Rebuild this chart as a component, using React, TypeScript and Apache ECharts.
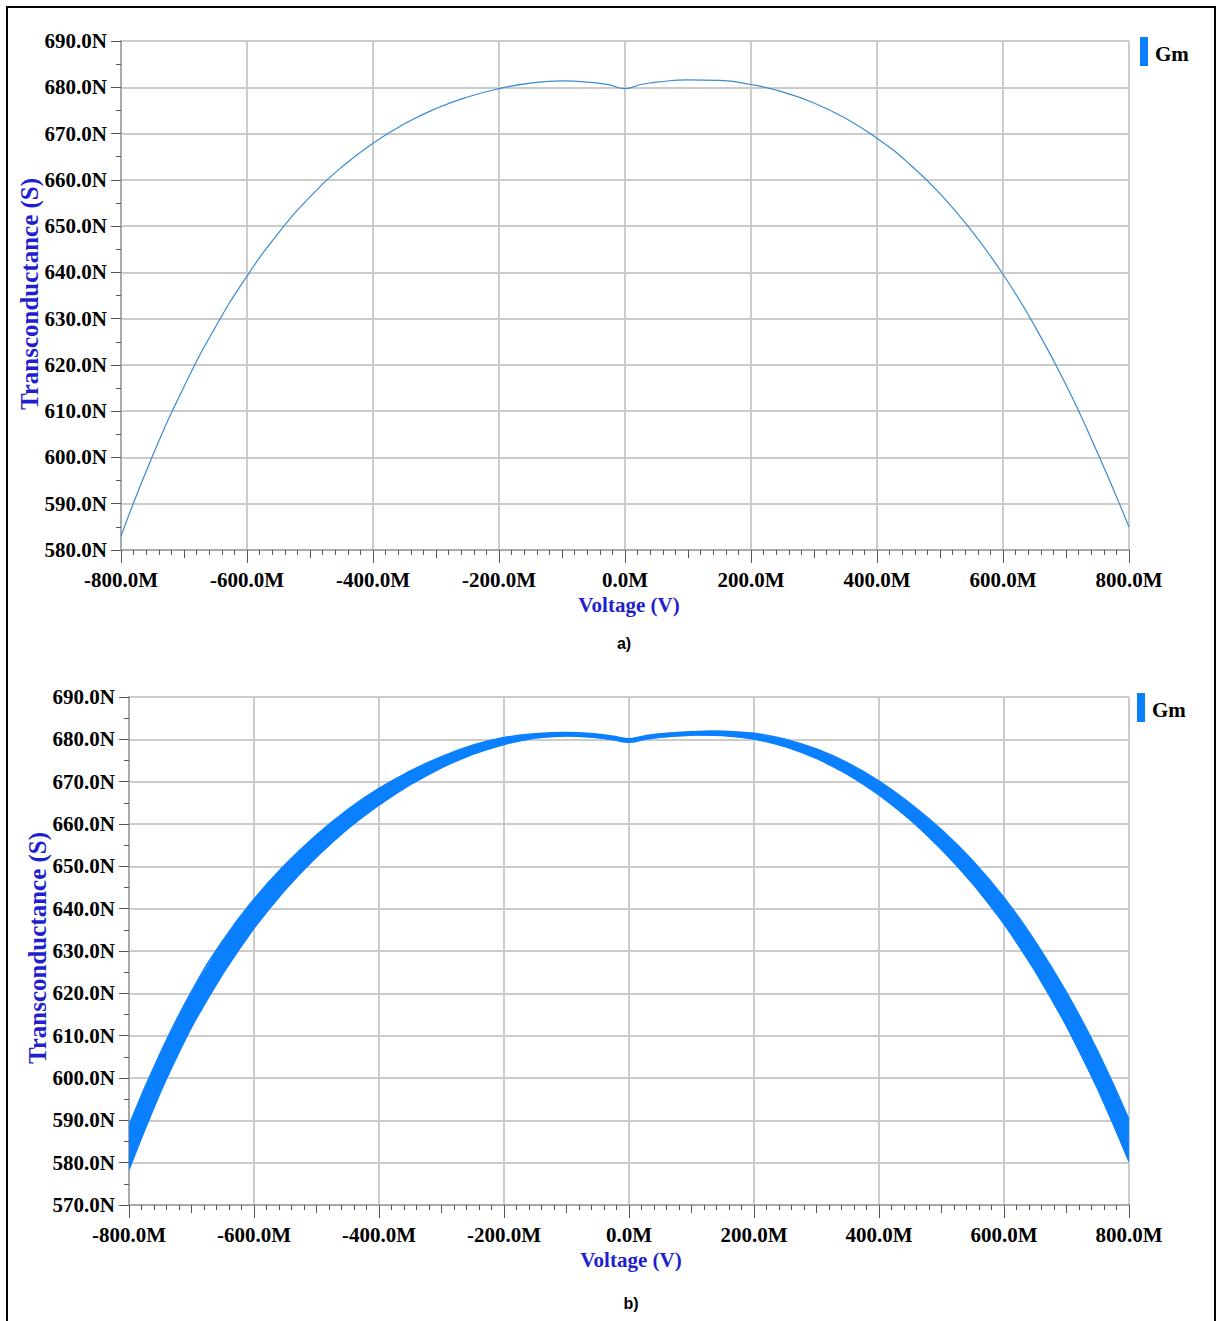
import React, { useEffect, useRef } from "react";
import * as echarts from "echarts";

// Voltage sweep (shown as "M")
const volts = [-800, -750, -700, -650, -600, -550, -500, -450, -400, -350, -300, -250, -200, -150, -100, -50, -25, 0, 25, 50, 100, 150, 200, 250, 300, 350, 400, 450, 500, 550, 600, 650, 700, 750, 800];

// Chart a) Gm (nS)
const gmA = [583.0, 600.3, 615.3, 628.2, 639.2, 648.5, 656.3, 662.7, 667.9, 672.1, 675.4, 677.9, 679.7, 680.9, 681.4, 681.0, 680.5, 679.7, 680.6, 681.1, 681.6, 681.5, 680.6, 679.0, 676.6, 673.3, 669.0, 663.6, 657.0, 649.0, 639.6, 628.5, 615.7, 601.0, 585.0];

// Chart b) Gm band: lower and upper envelopes (nS)
const gmBLower = [578.4, 596.6, 612.0, 624.6, 635.4, 644.5, 652.2, 658.9, 664.5, 669.3, 673.3, 676.5, 678.8, 680.3, 680.8, 680.4, 679.9, 679.3, 680.0, 680.5, 681.0, 680.9, 680.1, 678.3, 675.5, 671.7, 666.9, 661.0, 654.0, 645.9, 636.4, 625.2, 612.3, 597.4, 580.3];
const gmBUpper = [588.8, 605.8, 620.4, 632.4, 642.2, 650.4, 657.4, 663.4, 668.4, 672.5, 675.9, 678.6, 680.4, 681.3, 681.6, 681.2, 680.7, 680.1, 680.8, 681.3, 681.8, 681.9, 681.4, 680.0, 677.7, 674.4, 670.1, 664.8, 658.6, 651.3, 642.6, 632.2, 620.2, 606.3, 590.1];

const yTicksA = { min: 580, max: 690, interval: 10 };
const yTicksB = { min: 570, max: 690, interval: 10 };
const xTicks = { min: -800, max: 800, interval: 200 };

const SERIF = "'Liberation Serif', 'Times New Roman', serif";
const GRID_COLOR = "#cbcbcb";
const TICK_COLOR = "#555";
const NAME_BLUE = "#1f1fd0";
const BAND_BLUE = "#0a80ff";
const LINE_BLUE = "#3b8bd0";

function mainX(gridIndex: number) {
  return {
    type: "value",
    gridIndex,
    position: "bottom",
    min: xTicks.min,
    max: xTicks.max,
    interval: xTicks.interval,
    axisLine: { show: true, onZero: false, lineStyle: { color: "#aaaaaa", width: 2 } },
    axisTick: { show: true, length: 13, lineStyle: { color: TICK_COLOR, width: 1 } },
    minorTick: { show: true, splitNumber: 10, length: 5, lineStyle: { color: TICK_COLOR, width: 1 } },
    splitLine: { show: true, lineStyle: { color: GRID_COLOR, width: 2 } },
    minorSplitLine: { show: false },
    axisLabel: {
      show: true,
      margin: 19,
      showMinLabel: true,
      showMaxLabel: true,
      fontFamily: SERIF,
      fontWeight: "bold",
      fontSize: 21,
      color: "#000",
      formatter: (v: number) => v.toFixed(1) + "M",
    },
  };
}

function midX(gridIndex: number) {
  return {
    type: "value",
    gridIndex,
    position: "bottom",
    min: xTicks.min,
    max: xTicks.max,
    interval: 100,
    axisLine: { show: false, onZero: false },
    axisTick: { show: true, length: 8, lineStyle: { color: TICK_COLOR, width: 1 } },
    splitLine: { show: false },
    axisLabel: { show: false },
  };
}

function mainY(gridIndex: number, t: { min: number; max: number; interval: number }) {
  return {
    type: "value",
    gridIndex,
    min: t.min,
    max: t.max,
    interval: t.interval,
    axisLine: { show: true, onZero: false, lineStyle: { color: "#aaaaaa", width: 2 } },
    axisTick: { show: true, length: 10, lineStyle: { color: TICK_COLOR, width: 1 } },
    minorTick: { show: true, splitNumber: 2, length: 5, lineStyle: { color: TICK_COLOR, width: 1 } },
    splitLine: { show: true, lineStyle: { color: GRID_COLOR, width: 2 } },
    minorSplitLine: { show: false },
    axisLabel: {
      show: true,
      margin: 14,
      showMinLabel: true,
      showMaxLabel: true,
      fontFamily: SERIF,
      fontWeight: "bold",
      fontSize: 21,
      color: "#000",
      formatter: (v: number) => v.toFixed(1) + "N",
    },
  };
}

function txt(text: string, x: number, y: number, opts: any = {}) {
  return {
    type: "text",
    x,
    y,
    rotation: opts.rotation || 0,
    silent: true,
    style: {
      text,
      fontFamily: opts.fontFamily || SERIF,
      fontWeight: opts.fontWeight || "bold",
      fontSize: opts.fontSize || 21,
      fill: opts.fill || "#000",
      align: opts.align || "center",
      verticalAlign: "middle",
    },
  };
}

export default function App() {
  const ref = useRef<HTMLDivElement>(null);

  useEffect(() => {
    if (!ref.current) return;
    const chart = echarts.init(ref.current, null, { renderer: "svg" });

    const dataA = volts.map((v, i) => [v, gmA[i]]);
    const dataB = volts.map((v, i) => [v, gmBLower[i], gmBUpper[i]]);

    const bandRender = (params: any, api: any) => {
      if (params.dataIndex !== 0) return null;
      const up: number[][] = [];
      const lo: number[][] = [];
      for (let i = 0; i < volts.length; i++) {
        up.push(api.coord([volts[i], gmBUpper[i]]));
        lo.push(api.coord([volts[i], gmBLower[i]]));
      }
      const poly = up.concat(lo.slice().reverse());
      const edge = { stroke: BAND_BLUE, fill: "none", lineWidth: 1.6, lineJoin: "round" };
      return {
        type: "group",
        children: [
          {
            type: "polygon",
            shape: { points: poly, smooth: 0 },
            style: { fill: BAND_BLUE, stroke: BAND_BLUE, lineWidth: 0.6, lineJoin: "round" },
          },
          { type: "polyline", shape: { points: up, smooth: 0.5 }, style: edge },
          { type: "polyline", shape: { points: lo, smooth: 0.5 }, style: edge },
        ],
      };
    };

    const option: any = {
      animation: false,
      backgroundColor: "#ffffff",
      grid: [
        { left: 121, top: 41, width: 1008, height: 509, outerBoundsMode: "none", containLabel: false },
        { left: 129, top: 697, width: 1000, height: 508, outerBoundsMode: "none", containLabel: false },
      ],
      xAxis: [mainX(0), midX(0), mainX(1), midX(1)],
      yAxis: [mainY(0, yTicksA), mainY(1, yTicksB)],
      series: [
        {
          name: "Gm",
          type: "line",
          xAxisIndex: 0,
          yAxisIndex: 0,
          data: dataA,
          smooth: 0.5,
          symbol: "none",
          lineStyle: { color: LINE_BLUE, width: 1.2 },
        },
        {
          name: "Gm band",
          type: "custom",
          xAxisIndex: 2,
          yAxisIndex: 1,
          data: dataB,
          encode: { x: 0, y: [1, 2] },
          renderItem: bandRender,
          clip: true,
        },
      ],
      graphic: [
        {
          type: "rect",
          silent: true,
          shape: { x: 7, y: 7, width: 1208, height: 1340 },
          style: { fill: "none", stroke: "#000", lineWidth: 2 },
        },
        // Chart a texts
        txt("Transconductance (S)", 29, 294, { rotation: Math.PI / 2, fill: NAME_BLUE, fontSize: 25 }),
        txt("Voltage (V)", 629, 605, { fill: NAME_BLUE }),
        txt("a)", 624, 643, { fontFamily: "'Liberation Sans', Arial, sans-serif", fontSize: 16 }),
        { type: "rect", silent: true, shape: { x: 1140, y: 37, width: 8, height: 29 }, style: { fill: BAND_BLUE } },
        txt("Gm", 1155, 54, { align: "left", fontSize: 21 }),
        // Chart b texts
        txt("Transconductance (S)", 37, 948, { rotation: Math.PI / 2, fill: NAME_BLUE, fontSize: 25 }),
        txt("Voltage (V)", 631, 1260, { fill: NAME_BLUE }),
        txt("b)", 631, 1303, { fontFamily: "'Liberation Sans', Arial, sans-serif", fontSize: 16 }),
        { type: "rect", silent: true, shape: { x: 1137, y: 693, width: 8, height: 29 }, style: { fill: BAND_BLUE } },
        txt("Gm", 1152, 710, { align: "left", fontSize: 21 }),
      ],
    };

    chart.setOption(option);
    return () => {
      chart.dispose();
    };
  }, []);

  return (
    <div
      ref={ref}
      style={{ position: "absolute", left: 0, top: 0, width: 1219, height: 1321, background: "#fff" }}
    />
  );
}
